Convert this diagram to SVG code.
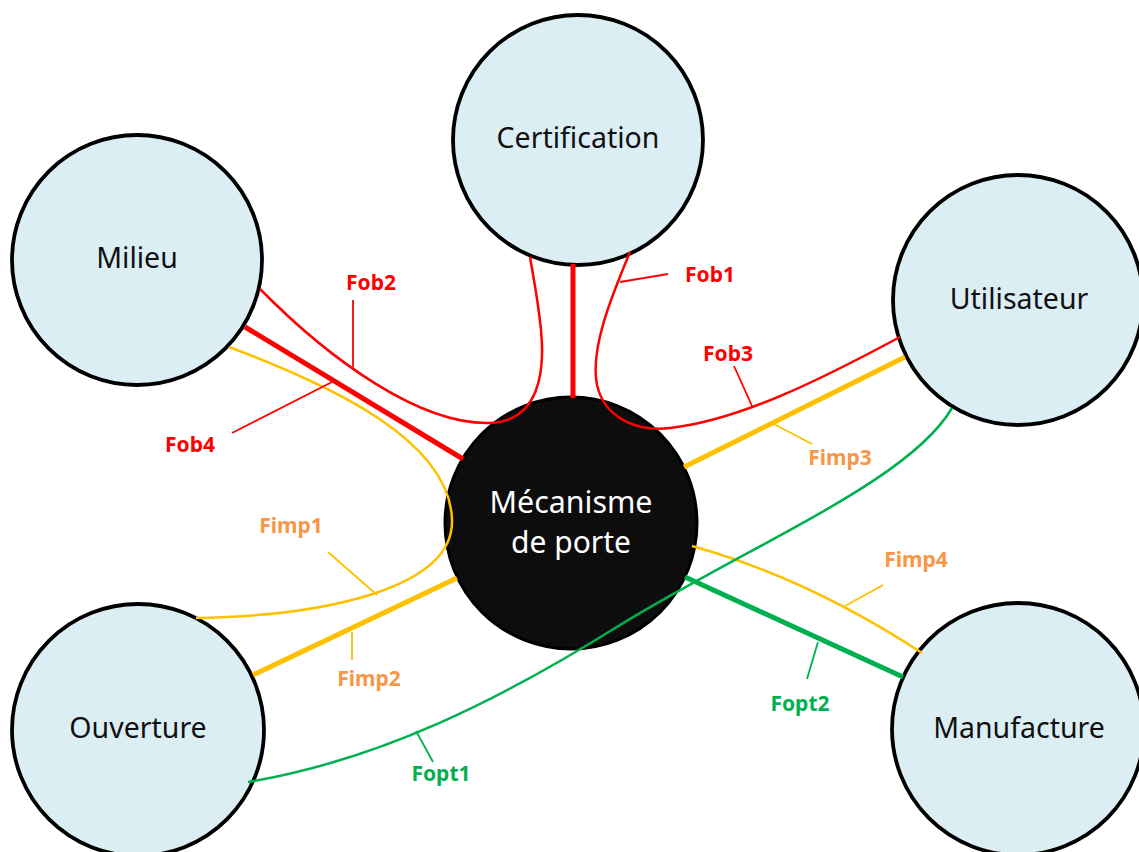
<svg xmlns="http://www.w3.org/2000/svg" width="1139" height="852" viewBox="0 0 1139 852">
<style>
.node{fill:#DAEEF3;stroke:#000;stroke-width:3.8}
.core{fill:#0D0D0D;stroke:#000;stroke-width:3}
.nt{font-family:"Noto Sans","Open Sans","Liberation Sans",sans-serif;font-size:28.5px;fill:#111;text-anchor:middle}
.ct{fill:#fff;font-size:30px}
.lbl{font-family:"Noto Sans","Open Sans","Liberation Sans",sans-serif;font-size:21px;font-weight:700;text-anchor:middle}
.r{stroke:#FF0000;fill:none}
.y{stroke:#FFC000;fill:none}
.g{stroke:#00B050;fill:none}
.thin{stroke-width:2.5}
.thick{stroke-width:5}
.lead{stroke-width:1.8}
.lr{fill:#FF0000}
.lo{fill:#F79646}
.lg{fill:#00B050}
</style>
<rect width="1139" height="852" fill="#fff"/>
<g id="node-certification"><circle class="node" cx="578" cy="140" r="125"/><text class="nt" x="578" y="148">Certification</text></g>
<g id="node-milieu"><circle class="node" cx="137" cy="260" r="125"/><text class="nt" x="137" y="268">Milieu</text></g>
<g id="node-utilisateur"><circle class="node" cx="1018" cy="300" r="125"/><text class="nt" x="1019" y="309">Utilisateur</text></g>
<g id="node-ouverture"><circle class="node" cx="138" cy="730" r="126"/><text class="nt" x="138" y="738">Ouverture</text></g>
<g id="node-manufacture"><circle class="node" cx="1018" cy="729" r="126"/><text class="nt" x="1019" y="738">Manufacture</text></g>
<g id="node-mecanisme"><circle class="core" cx="571" cy="523" r="126"/><text class="nt ct" x="571" y="513" textLength="163" lengthAdjust="spacingAndGlyphs">Mécanisme</text><text class="nt ct" x="571" y="553">de porte</text></g>
<g id="connectors">
<path class="r thin" d="M260,289 C330,360 420,425 490,423 C540,421 545,370 541,330 C538,300 533,275 530,257"/>
<path class="r thick" d="M573,264 L573,398"/>
<path class="r thin" d="M630,252 C610,300 590,350 597,385 C605,420 640,432 670,428 C740,420 820,380 900,337"/>
<path class="r thick" d="M245,327 L463,459"/>
<path class="y thin" d="M229,347 C330,385 450,440 452,520 C454,590 320,616 196,618"/>
<path class="y thick" d="M253,675 L457,578"/>
<path class="y thick" d="M684,467 L905,357"/>
<path class="y thin" d="M692,546 Q807,578 922,653"/>
<path class="g thin" d="M952,408 C910,480 760,540 620,625 C500,700 380,760 248,782"/>
<path class="g thick" d="M685,577 L903,677"/>
<path class="r lead" d="M353,300 L353,367"/>
<path class="r lead" d="M232,433 L332,382"/>
<path class="r lead" d="M620,282 L668,274"/>
<path class="r lead" d="M734,366 L752,406"/>
<path class="y lead" d="M328,552 L377,595"/>
<path class="y lead" d="M352,632 L352,660"/>
<path class="y lead" d="M770,422 L812,444"/>
<path class="y lead" d="M845,606 L883,585"/>
<path class="g lead" d="M416,731 L433,762"/>
<path class="g lead" d="M818,642 L807,679"/>
<text class="lbl lr" x="371" y="290">Fob2</text>
<text class="lbl lr" x="190" y="452">Fob4</text>
<text class="lbl lr" x="710" y="282">Fob1</text>
<text class="lbl lr" x="728" y="361">Fob3</text>
<text class="lbl lo" x="291" y="533">Fimp1</text>
<text class="lbl lo" x="369" y="686">Fimp2</text>
<text class="lbl lo" x="840" y="465">Fimp3</text>
<text class="lbl lo" x="916" y="567">Fimp4</text>
<text class="lbl lg" x="441" y="781">Fopt1</text>
<text class="lbl lg" x="800" y="711">Fopt2</text>
</g>
</svg>
